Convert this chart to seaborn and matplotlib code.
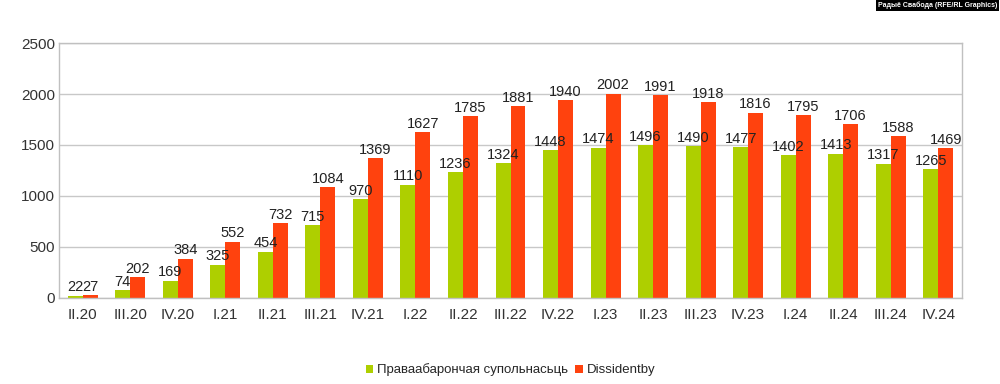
import numpy as np
import pandas as pd
import seaborn as sns
import matplotlib.pyplot as plt
from matplotlib.ticker import FixedLocator

# дадзеныя
quarters = ['II.20', 'III.20', 'IV.20', 'I.21', 'II.21', 'III.21', 'IV.21',
            'I.22', 'II.22', 'III.22', 'IV.22', 'I.23', 'II.23', 'III.23',
            'IV.23', 'I.24', 'II.24', 'III.24', 'IV.24']
pravaabaronchaya = [22, 74, 169, 325, 454, 715, 970, 1110, 1236, 1324, 1448,
                    1474, 1496, 1490, 1477, 1402, 1413, 1317, 1265]
dissidentby = [27, 202, 384, 552, 732, 1084, 1369, 1627, 1785, 1881, 1940,
               2002, 1991, 1918, 1816, 1795, 1706, 1588, 1469]
series_names = ['Праваабарончая супольнасьць', 'Dissidentby']
colors = ['#aecf00', '#ff420e']

df = pd.DataFrame({'quarter': quarters * 2,
                   'value': pravaabaronchaya + dissidentby,
                   'series': [series_names[0]] * len(quarters) + [series_names[1]] * len(quarters)})

sns.set_style('white')
plt.rcParams['font.family'] = ['Liberation Sans Narrow', 'Liberation Sans', 'DejaVu Sans']

fig = plt.figure(figsize=(10, 3.84), dpi=100)
ax = fig.add_axes([0.059, 0.224, 0.903, 0.664])

sns.barplot(data=df, x='quarter', y='value', hue='series', palette=colors,
            width=0.63, gap=0, saturation=1, linewidth=0, ax=ax, legend=True)

for cont in ax.containers:
    ax.bar_label(cont, fontsize=10.5, padding=1, color='#222222')

ax.set_ylim(0, 2500)
ax.set_yticks(range(0, 2501, 500))
ax.set_xlim(-0.5, len(quarters) - 0.5)
ax.set_xlabel('')
ax.set_ylabel('')
ax.yaxis.grid(True, color='#c8c8c8', linewidth=1)
ax.set_axisbelow(True)
for sp in ax.spines.values():
    sp.set_color('#c0c0c0')
    sp.set_linewidth(1)
ax.tick_params(axis='both', labelsize=11, colors='#333333', length=0, pad=7)
ax.xaxis.set_minor_locator(FixedLocator(np.arange(-0.5, len(quarters), 1)))
ax.tick_params(axis='x', which='minor', length=5, color='#c0c0c0', width=1)
ax.tick_params(axis='y', length=5, color='#c0c0c0', direction='in', pad=3)

ax.legend(loc='upper center', bbox_to_anchor=(0.50, -0.21), ncol=2, frameon=False,
          fontsize=9.5, handlelength=0.6, handleheight=0.6, handletextpad=0.3,
          columnspacing=0.5)

fig.text(0.997, 0.997, 'Радыё Свабода (RFE/RL Graphics)', ha='right', va='top',
         fontsize=5, color='white', fontweight='bold',
         bbox=dict(facecolor='black', edgecolor='none', pad=1.5))

fig.savefig('out.png', dpi=100)
